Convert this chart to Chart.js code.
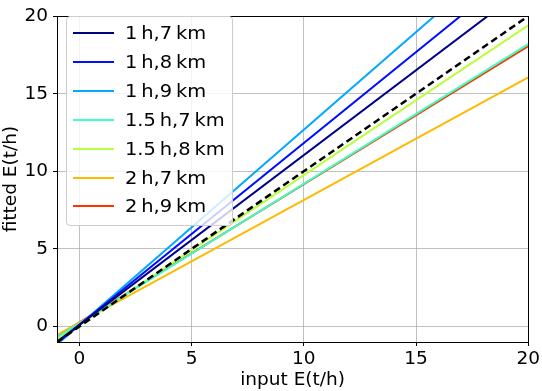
<!DOCTYPE html>
<html>
<head>
<meta charset="utf-8">
<script src="https://cdn.jsdelivr.net/npm/chart.js@4/dist/chart.umd.min.js"></script>
<style>
  html, body { margin: 0; padding: 0; background: #fff; }
  #wrap { position: relative; width: 542px; height: 391px; }
  #legend {
    position: absolute; left: 66px; top: 16px; width: 165px; height: 208px;
    background: rgba(255,255,255,0.8); border: 1px solid #cccccc; border-radius: 4px;
    font-family: 'DejaVu Sans', sans-serif; font-size: 18px; color: #000;
  }
  .item { position: absolute; left: 0; height: 22px; }
  .item .swatch { position: absolute; left: 6px; width: 41px; height: 0; top: 10px; border-top: 2px solid; }
  .item .lbl { position: absolute; left: 58px; top: 0; line-height: 22px; white-space: nowrap;
               transform: scaleX(1.08); transform-origin: 0 50%; }
</style>
</head>
<body>
<div id="wrap">
  <canvas id="c" width="542" height="391"></canvas>
  <div id="legend"></div>
</div>
<script>
// ---- data ----
const categories = ['1\u2009h,7\u2009km', '1\u2009h,8\u2009km', '1\u2009h,9\u2009km', '1.5\u2009h,7\u2009km', '1.5\u2009h,8\u2009km', '2\u2009h,7\u2009km', '2\u2009h,9\u2009km'];
const xEnds = [-1, 20];
const yAtStart = [-0.99, -1.07, -1.16, -0.70, -0.87, -0.54, -0.62];
const yAtEnd = [21.98, 23.54, 25.26, 18.20, 19.40, 16.05, 18.07];
const identityY = [-1, 20];
const colors = ['#000088', '#0010ff', '#00a8ff', '#3dffbf', '#b8ff3d', '#ffb900', '#ff3300'];
const xTicks = [0, 5, 10, 15, 20];
const yTicks = [0, 5, 10, 15, 20];
const xTitle = 'input E(t/h)';
const yTitle = 'fitted E(t/h)';

const FONT = { family: "'DejaVu Sans', sans-serif", size: 18.5 };

const datasets = categories.map((name, i) => ({
  label: name,
  data: [{ x: xEnds[0], y: yAtStart[i] }, { x: xEnds[1], y: yAtEnd[i] }],
  borderColor: colors[i],
  borderWidth: 2,
  showLine: true,
  pointRadius: 0,
  order: 1,
  clip: 0
}));
datasets.push({
  label: 'identity',
  data: [{ x: xEnds[0], y: identityY[0] }, { x: xEnds[1], y: identityY[1] }],
  borderColor: '#000',
  borderWidth: 2.5,
  borderDash: [7, 4],
  showLine: true,
  pointRadius: 0,
  order: 0,
  clip: 0
});

const frame = {
  id: 'frame',
  afterDraw(chart) {
    const { ctx, chartArea: a } = chart;
    ctx.save();
    ctx.strokeStyle = '#000';
    ctx.lineWidth = 1;
    ctx.strokeRect(Math.round(a.left) + 0.5, Math.round(a.top) + 0.5, Math.round(a.right - a.left), Math.round(a.bottom - a.top));
    ctx.restore();
  }
};

new Chart(document.getElementById('c'), {
  type: 'scatter',
  data: { datasets },
  plugins: [frame],
  options: {
    responsive: false,
    animation: false,
    layout: { padding: { top: 7, right: 13, left: 0, bottom: 0 } },
    plugins: { legend: { display: false }, tooltip: { enabled: false } },
    scales: {
      x: {
        type: 'linear', min: xEnds[0], max: xEnds[1],
        afterBuildTicks: s => { s.ticks = xTicks.map(v => ({ value: v })); },
        afterFit: s => { s.height = 49; },
        ticks: { color: '#000', font: FONT, padding: 2, maxRotation: 0 },
        grid: { color: '#b0b0b0', lineWidth: 0.8, tickColor: '#000', tickLength: 4, tickWidth: 1 },
        border: { color: '#000', width: 1 },
        title: { display: true, text: xTitle, color: '#000', font: FONT, padding: { top: 0, bottom: 0 } }
      },
      y: {
        type: 'linear', min: identityY[0], max: identityY[1],
        afterBuildTicks: s => { s.ticks = yTicks.map(v => ({ value: v })); },
        afterFit: s => { s.width = 57; },
        ticks: { color: '#000', font: FONT, padding: 5 },
        grid: { color: '#b0b0b0', lineWidth: 0.8, tickColor: '#000', tickLength: 4, tickWidth: 1 },
        border: { color: '#000', width: 1 },
        title: { display: true, text: yTitle, color: '#000', font: FONT, padding: { top: 0, bottom: 0 } }
      }
    }
  }
});

// HTML legend inside the plot
const leg = document.getElementById('legend');
categories.forEach((name, i) => {
  const it = document.createElement('div');
  it.className = 'item';
  it.style.top = (5 + i * 28.9) + 'px';
  it.style.width = '100%';
  const sw = document.createElement('div');
  sw.className = 'swatch';
  sw.style.borderTopColor = colors[i];
  const lb = document.createElement('div');
  lb.className = 'lbl';
  lb.textContent = name;
  it.appendChild(sw); it.appendChild(lb);
  leg.appendChild(it);
});
</script>
</body>
</html>
